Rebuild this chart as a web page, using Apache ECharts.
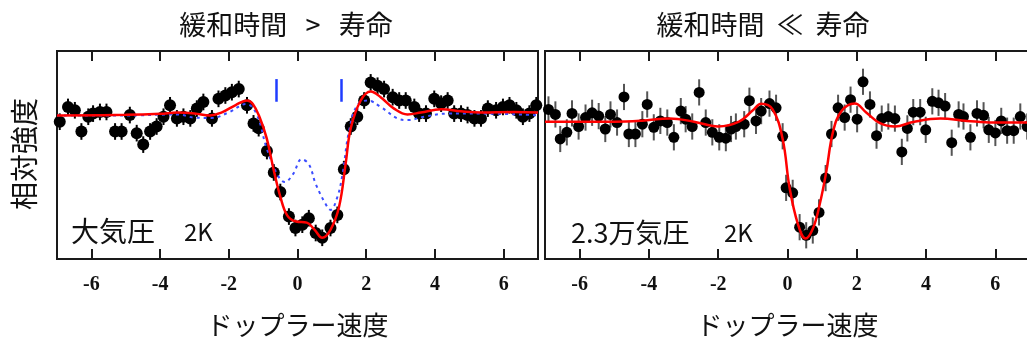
<!DOCTYPE html>
<html>
<head>
<meta charset="utf-8">
<script src="https://cdn.jsdelivr.net/npm/echarts@6/dist/echarts.min.js"></script>
<style>
  html, body { margin: 0; padding: 0; background: #fff; overflow: hidden; }
  #chart { width: 1040px; height: 343px; }
</style>
</head>
<body>
<div id="chart"></div>
<script>
// ---- data ----
const tickValues = [-6, -4, -2, 0, 2, 4, 6];

// left panel: ambient pressure, 2K
const leftPtsX = [-6.92,-6.68,-6.48,-6.29,-6.09,-5.95,-5.75,-5.56,-5.31,-5.12,-4.88,-4.68,-4.49,-4.29,-4.10,-3.90,-3.71,-3.51,-3.32,-3.12,-2.93,-2.74,-2.49,-2.30,-2.10,-1.91,-1.71,-1.47,-1.28,-1.13,-0.89,-0.69,-0.50,-0.25,-0.06,0.14,0.33,0.53,0.72,0.96,1.16,1.35,1.55,1.74,1.94,2.13,2.33,2.52,2.77,2.96,3.15,3.40,3.54,3.74,3.98,4.18,4.37,4.56,4.76,4.95,5.15,5.34,5.54,5.78,5.98,6.17,6.37,6.56,6.75,6.95];
const leftPtsY = [-3,4.1,2.5,-7.7,-0.6,0.9,1.7,1.7,-7.7,-7.7,0.2,-8.5,-14,-7.7,-5.3,-0.6,4.9,-1.4,-0.6,-1.4,3.3,6.5,-1.4,8,9.6,11.2,12.7,4.9,-3.8,-6.1,-17.1,-27.4,-36.8,-48.6,-54.1,-52.5,-49.4,-56.5,-58.8,-54.1,-47.8,-25.8,-5.3,-0.6,7.2,15.9,14.3,12.7,8.8,7.2,7.2,4.1,0.9,0.9,8,5.7,7.2,0.9,0.9,0.2,-1.4,-1.4,3.3,2.5,4.1,4.9,2.5,-0.6,0.9,4.9];
const leftErr = 4;

const leftFitX = [-7,-5,-4,-3.5,-3,-2.55,-2.2,-1.8,-1.47,-1.3,-1.1,-0.9,-0.69,-0.5,-0.3,-0.04,0.27,0.5,0.72,0.96,1.21,1.4,1.55,1.84,2.13,2.42,2.81,3.2,3.59,4.18,4.76,5.34,6.3,7];
const leftFitY = [0,0.3,0.8,1.4,1.0,0,1.5,5,7.2,5.5,-1,-10.8,-26.4,-39,-48,-51,-51.5,-55,-58.8,-55,-43.9,-23.4,-6.1,7.2,11.5,8.8,3.3,0.5,1.4,3.0,2.0,1.4,1.7,1.4];

const leftAltX = [-7,-5,-3.5,-3,-2.5,-2,-1.5,-1.2,-0.9,-0.6,-0.37,-0.13,0.12,0.33,0.53,0.81,0.96,1.16,1.31,1.5,1.74,2.04,2.42,2.91,3.2,3.69,4.37,5.34,7];
const leftAltY = [0,0,0.5,-1,-1.2,1.5,5.5,1,-15.6,-28,-32,-28.2,-21.1,-23.4,-32.9,-42.3,-45.4,-39.2,-28.2,-7.5,4.9,7.2,4.1,-1.4,-2.2,-0.6,0.9,0.9,0.1];

const markX = [-0.61, 1.26];
const markLow = 6.6;
const markHigh = 17.5;

// right panel: 2.3万気圧, 2K
const rightPtsX = [-6.90,-6.70,-6.56,-6.37,-6.22,-6.03,-5.83,-5.64,-5.45,-5.26,-5.11,-4.92,-4.72,-4.58,-4.39,-4.19,-4.05,-3.86,-3.67,-3.47,-3.28,-3.08,-2.94,-2.75,-2.55,-2.36,-2.17,-1.97,-1.78,-1.63,-1.49,-1.25,-1.10,-0.91,-0.76,-0.52,-0.33,-0.14,-0.04,0.15,0.35,0.54,0.73,0.91,1.10,1.27,1.46,1.65,1.82,2.01,2.18,2.38,2.57,2.72,2.91,3.10,3.30,3.46,3.63,3.83,3.99,4.18,4.36,4.55,4.74,4.94,5.08,5.28,5.47,5.66,5.81,6.00,6.17,6.34,6.53,6.72,6.92];
const rightPtsY = [5.9,3.5,-8.3,-5.1,4.0,-2.3,2.0,4.3,2.7,-3.5,3.5,-0.4,11.9,-5.9,-5.9,-1.2,8.3,-2.7,0.4,-0.4,-7.5,5.1,1.2,-2.3,14.1,-0.4,-5.1,-7.5,-7.9,-3.5,-2.3,-1.2,10.1,0.4,5.1,8.7,6.7,-7.0,-31.8,-34.2,-50.7,-54.6,-52.3,-43.6,-27.1,-5.9,6.7,2.0,10.6,1.2,19.2,8.3,-6.7,1.5,2.5,1.5,-14.5,-3.2,4.6,4.6,-3.9,9.8,9.1,7.5,-10.1,3.5,2.5,-7.5,4.0,3.1,-3.9,-5.4,0.4,-4.3,-4.3,2.5,-2.3];
const rightErr = 6.3;

const rightFitX = [-7,-5,-4.2,-3.4,-2.7,-2.0,-1.4,-1.0,-0.76,-0.43,-0.14,0.06,0.3,0.52,0.73,0.93,1.12,1.31,1.56,1.94,2.28,2.67,3.1,3.63,4.41,5.18,5.95,7];
const rightFitY = [0,0,0.5,1.6,0,-2.3,0,5.5,8.6,5.9,-8.3,-31.8,-49.2,-56.2,-51.5,-39.7,-24,-5.1,5.1,8.7,4.3,-0.7,-2.3,-0.1,1.5,0.4,-0.4,-0.4];

const titles = ['緩和時間   >   寿命', '緩和時間  ≪  寿命'];
const xName = 'ドップラー速度';
const yName = '相対強度';
// ----

const zip = (xs, ys) => xs.map((x, i) => [x, ys[i]]);
const withErr = (xs, ys, e) => xs.map((x, i) => [x, ys[i], e]);

const cjk = '"Noto Sans CJK JP", "Noto Sans", sans-serif';
const ink = '#1a1a1a';

function errBars(color) {
  return function (params, api) {
    const x = api.value(0), y = api.value(1), e = api.value(2);
    const a = api.coord([x, y - e]);
    const b = api.coord([x, y + e]);
    return {
      type: 'line',
      shape: { x1: a[0], y1: a[1], x2: b[0], y2: b[1] },
      style: { stroke: color, lineWidth: 2 }
    };
  };
}

function bottomAxis(gi) {
  return {
    type: 'value', gridIndex: gi, min: -7, max: 7, position: 'bottom',
    axisLine: { show: true, onZero: false, lineStyle: { color: ink, width: 2 } },
    axisTick: { show: true, inside: true, length: 10, customValues: tickValues, lineStyle: { color: ink, width: 2 } },
    axisLabel: {
      show: true, customValues: tickValues, margin: 16,
      fontFamily: '"Liberation Serif", "Times New Roman", serif', fontWeight: 'bold',
      fontSize: 20, color: '#111'
    },
    splitLine: { show: false },
    name: xName, nameLocation: 'middle', nameGap: 53,
    nameTextStyle: { fontFamily: cjk, fontSize: 26, color: '#111' }
  };
}
function topAxis(gi) {
  return {
    type: 'value', gridIndex: gi, min: -7, max: 7, position: 'top',
    axisLine: { show: true, onZero: false, lineStyle: { color: ink, width: 2 } },
    axisTick: { show: true, inside: true, length: 10, customValues: tickValues, lineStyle: { color: ink, width: 2 } },
    axisLabel: { show: false },
    splitLine: { show: false }
  };
}
function yAxis(gi, lo, hi) {
  return {
    type: 'value', gridIndex: gi, min: lo, max: hi,
    axisLine: { show: false }, axisTick: { show: false },
    axisLabel: { show: false }, splitLine: { show: false }
  };
}

const chart = echarts.init(document.getElementById('chart'));
chart.setOption({
  animation: false,
  backgroundColor: '#fff',
  title: [
    { text: titles[0], left: 281, top: 6, textAlign: 'center',
      textStyle: { fontFamily: cjk, fontSize: 27, fontWeight: 'normal', color: '#111' } },
    { text: titles[1], left: 758, top: 6, textAlign: 'center',
      textStyle: { fontFamily: cjk, fontSize: 27, fontWeight: 'normal', color: '#111' } }
  ],
  grid: [
    { left: 57, top: 51, width: 481, height: 212, show: true, borderColor: ink, borderWidth: 2, backgroundColor: 'transparent' },
    { left: 545, top: 51, width: 485, height: 212, show: true, borderColor: ink, borderWidth: 2, backgroundColor: 'transparent' }
  ],
  xAxis: [bottomAxis(0), topAxis(0), bottomAxis(1), topAxis(1)],
  yAxis: [yAxis(0, -69, 31), yAxis(1, -66, 34)],
  graphic: [
    { type: 'text', left: 10, top: 98, rotation: Math.PI / 2, originX: 0, originY: 0,
      style: { text: yName, font: '28px "Noto Sans CJK JP"', fill: '#111', x: 0, y: 0 } },
    { type: 'text', left: 71, top: 217, style: { text: '大気圧', font: '28px "Noto Sans CJK JP"', fill: '#111' } },
    { type: 'text', left: 184, top: 220, style: { text: '2K', font: '24px "Noto Sans CJK JP"', fill: '#111' } },
    { type: 'text', left: 571, top: 219, style: { text: '2.3万気圧', font: '27px "Noto Sans CJK JP"', fill: '#111' } },
    { type: 'text', left: 724, top: 221, style: { text: '2K', font: '24px "Noto Sans CJK JP"', fill: '#111' } }
  ],
  series: [
    { type: 'custom', xAxisIndex: 0, yAxisIndex: 0, z: 1,
      renderItem: errBars('#000'), data: withErr(leftPtsX, leftPtsY, leftErr) },
    { type: 'scatter', xAxisIndex: 0, yAxisIndex: 0, z: 2, symbol: 'circle', symbolSize: 12,
      itemStyle: { color: '#000', opacity: 1 }, data: zip(leftPtsX, leftPtsY) },
    { type: 'line', xAxisIndex: 0, yAxisIndex: 0, z: 3, smooth: 0.4, showSymbol: false,
      lineStyle: { color: '#3b4dff', width: 2, type: [3, 4] }, data: zip(leftAltX, leftAltY) },
    { type: 'line', xAxisIndex: 0, yAxisIndex: 0, z: 4, smooth: 0.4, showSymbol: false,
      lineStyle: { color: '#ff0000', width: 2.5 }, data: zip(leftFitX, leftFitY),
      markLine: {
        silent: true, symbol: 'none', label: { show: false },
        lineStyle: { color: '#1f3cff', width: 2.5, type: 'solid' },
        data: markX.map(x => [{ coord: [x, markHigh] }, { coord: [x, markLow] }])
      } },

    { type: 'custom', xAxisIndex: 2, yAxisIndex: 1, z: 1,
      renderItem: errBars('#555'), data: withErr(rightPtsX, rightPtsY, rightErr) },
    { type: 'scatter', xAxisIndex: 2, yAxisIndex: 1, z: 2, symbol: 'circle', symbolSize: 11,
      itemStyle: { color: '#000', opacity: 1 }, data: zip(rightPtsX, rightPtsY) },
    { type: 'line', xAxisIndex: 2, yAxisIndex: 1, z: 4, smooth: 0.4, showSymbol: false,
      lineStyle: { color: '#ff0000', width: 2.5 }, data: zip(rightFitX, rightFitY) }
  ]
});
</script>
</body>
</html>
